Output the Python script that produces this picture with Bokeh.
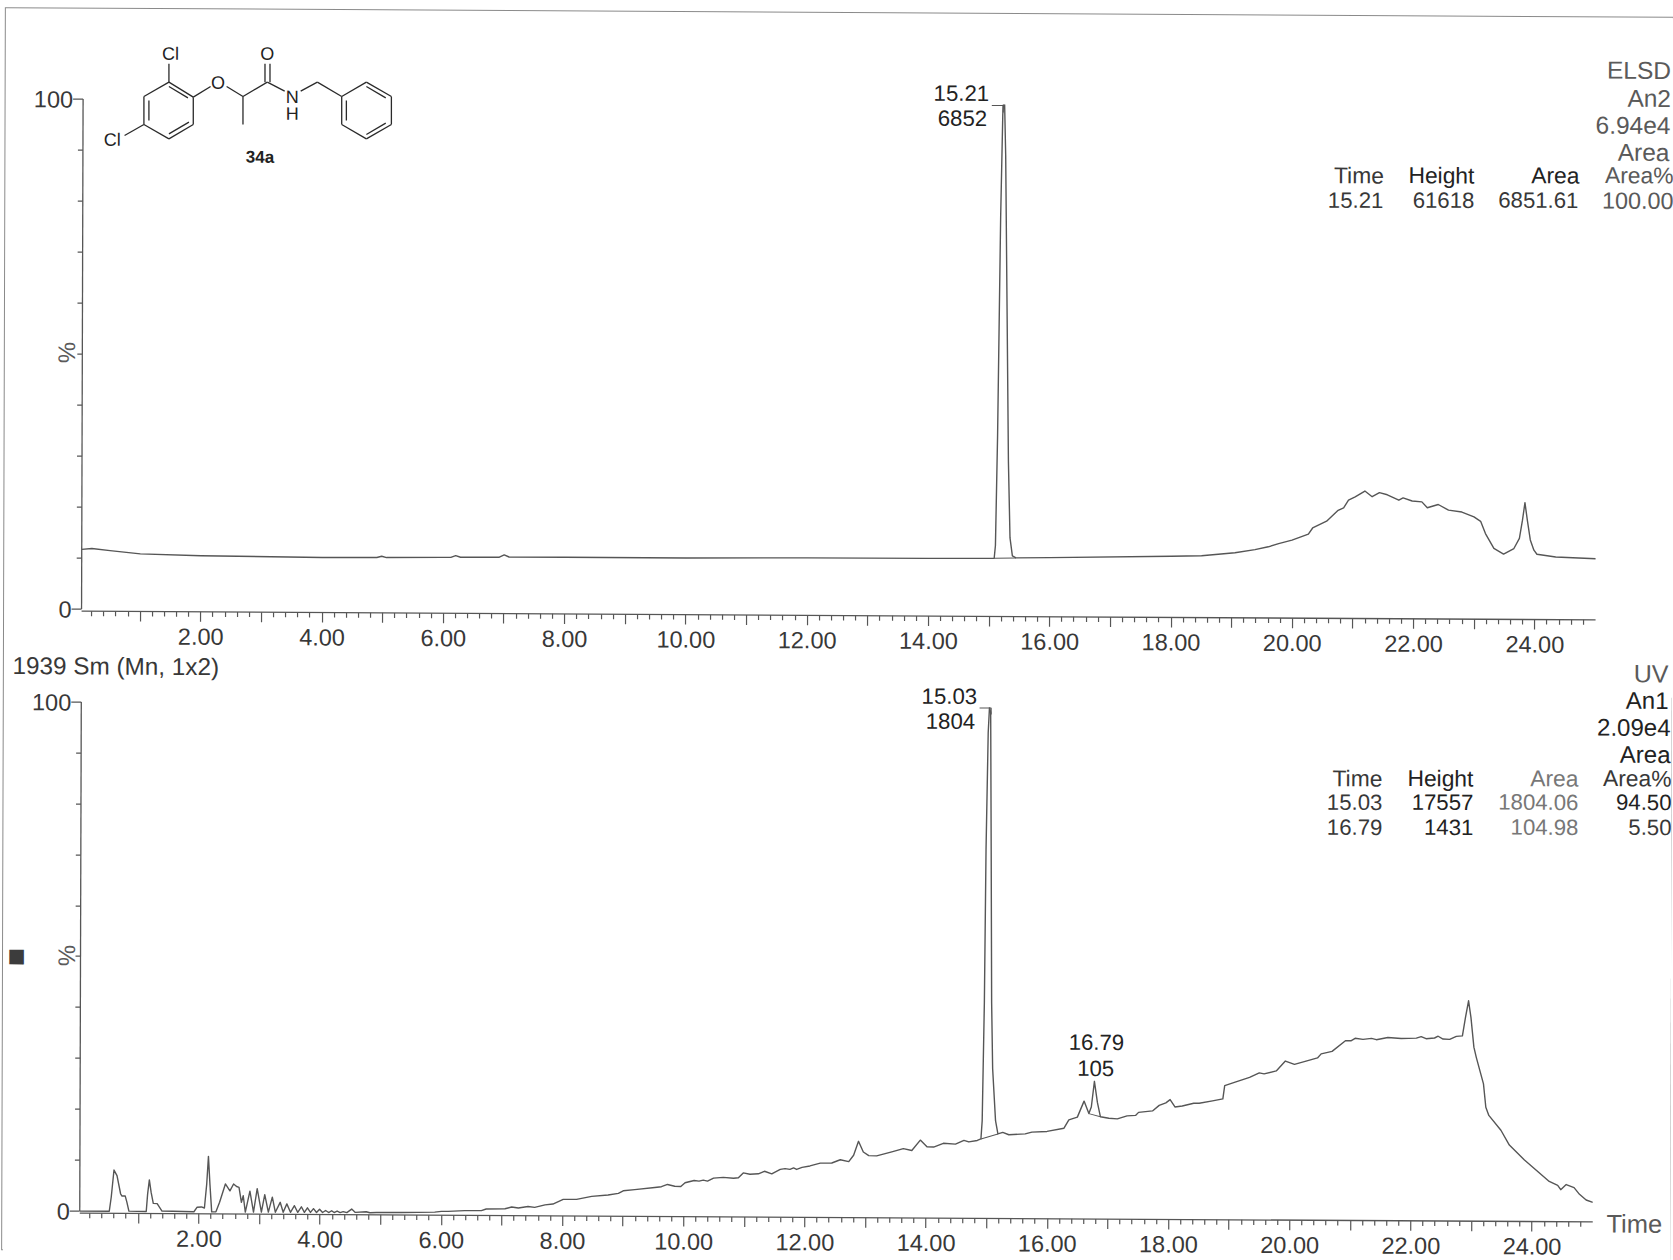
from math import pi
from bokeh.core.properties import value
from bokeh.embed import file_html
from bokeh.layouts import column
from bokeh.models import FixedTicker, Range1d
from bokeh.plotting import figure
from bokeh.resources import INLINE

# ---- ELSD trace (top panel): retention time (min), signal (%)
elsd_t = [0.033, 0.2, 0.5, 1.0, 2.0, 4.0, 4.9, 4.98, 5.06, 6.0, 6.12, 6.2, 6.28, 6.92, 7.0, 7.08, 8.0, 10.0, 12.0, 14.0, 15.0,
          15.08, 15.10, 15.13, 15.17, 15.20, 15.21, 15.23, 15.25, 15.28, 15.31, 15.34, 15.38, 15.44,
          16.0, 18.0, 18.5, 19.05, 19.38, 19.6, 19.77, 19.99, 20.26, 20.33, 20.56, 20.75, 20.84, 20.92,
          21.03, 21.19, 21.31, 21.43, 21.56, 21.75, 21.82, 21.97, 22.13, 22.22, 22.4, 22.57, 22.79, 22.99,
          23.1, 23.18, 23.32, 23.48, 23.65, 23.74, 23.79, 23.83, 23.87, 23.92, 23.98, 24.03, 24.34, 25.0]
elsd_v = [11.7, 11.9, 11.5, 10.9, 10.6, 10.4, 10.45, 10.7, 10.45, 10.55, 10.55, 10.9, 10.6, 10.65, 11.1, 10.7, 10.7, 10.7, 10.87, 10.9, 10.97,
          11.0, 13.5, 35.0, 78.0, 98.0, 100.0, 100.0, 90.0, 60.0, 30.0, 15.0, 11.5, 11.1,
          11.2, 11.6, 11.72, 12.35, 13.0, 13.56, 14.2, 14.9, 16.1, 17.3, 18.65, 20.8, 21.3, 22.8,
          23.45, 24.6, 23.5, 24.3, 23.9, 22.85, 23.3, 22.7, 22.55, 21.4, 22.05, 20.95, 20.6, 19.67,
          18.8, 16.4, 13.5, 12.4, 13.5, 15.5, 19.07, 22.5, 19.08, 15.2, 13.2, 12.4, 11.9, 11.6]

# ---- UV trace (bottom panel): retention time (min), signal (%)
uv_t = [0.033, 0.52, 0.552, 0.596, 0.646, 0.706, 0.73, 0.783, 0.81, 0.844, 1.13, 1.152, 1.18, 1.21, 1.246, 1.31, 1.39,
        1.917, 1.97, 2.04, 2.09, 2.127, 2.154, 2.18, 2.21, 2.28, 2.34, 2.435, 2.51, 2.57, 2.62, 2.66, 2.70, 2.73, 2.765,
        2.84, 2.90, 2.96, 3.03, 3.085, 3.145, 3.21, 3.26, 3.34, 3.39, 3.45, 3.51, 3.575, 3.63, 3.69, 3.74, 3.79, 3.84,
        3.89, 3.94, 3.99, 4.04, 4.09, 4.14, 4.19, 4.23, 4.28, 4.33, 4.38, 4.44, 4.52, 4.58, 4.76, 4.82, 4.93, 5.34, 5.89,
        6.0, 6.11, 6.385, 6.66, 6.74, 7.05, 7.16, 7.27, 7.43, 7.54, 7.71, 7.84, 8.01, 8.23, 8.48, 8.75, 8.92, 9.0, 9.19,
        9.52, 9.63, 9.73, 9.85, 9.95, 10.02, 10.17, 10.25, 10.32, 10.39, 10.49, 10.65, 10.82, 10.9, 10.98, 11.09, 11.23,
        11.33, 11.45, 11.59, 11.67, 11.75, 11.81, 11.86, 11.95, 12.08, 12.25, 12.44, 12.58, 12.72, 12.8, 12.88, 12.96,
        13.05, 13.18, 13.43, 13.62, 13.76, 13.9, 14.01, 14.12, 14.28, 14.48, 14.62, 14.7, 14.84, 14.90,
        14.92, 14.95, 14.97, 15.0, 15.02, 15.04, 15.055, 15.07, 15.09, 15.14, 15.18, 15.26, 15.36, 15.63, 15.74, 15.99,
        16.27, 16.35, 16.49, 16.6, 16.68, 16.72, 16.77, 16.82, 16.87, 17.01, 17.15, 17.31, 17.45, 17.5, 17.73, 17.84, 17.95,
        18.02, 18.1, 18.22, 18.41, 18.5, 18.72, 18.89, 18.92, 19.08, 19.33, 19.49, 19.57, 19.77, 19.92, 20.07, 20.29, 20.45,
        20.51, 20.69, 20.91, 21.0, 21.07, 21.2, 21.34, 21.42, 21.61, 21.83, 22.08, 22.16, 22.24, 22.38, 22.44, 22.52, 22.63,
        22.74, 22.84, 22.89, 22.94, 22.98, 23.03, 23.07, 23.19, 23.23, 23.28, 23.48, 23.62, 23.87, 24.28, 24.42, 24.47,
        24.56, 24.69, 24.78, 24.89, 25.0]
uv_v = [0.0, 0.0, 2.8, 8.1, 7.0, 3.45, 3.0, 3.0, 1.8, 0.05, 0.0, 3.4, 6.2, 3.75, 1.6, 1.55, 0.1,
        0.0, 0.9, 0.95, 0.75, 5.5, 10.9, 5.4, 0.0, 0.0, 1.9, 5.5, 4.15, 5.5, 5.0, 4.85, 1.9, 3.2, 0.0,
        4.1, 0.0, 4.6, 0.0, 3.45, 0.0, 2.95, 0.0, 1.95, 0.0, 1.65, 0.0, 1.3, 0.0, 1.1, 0.0, 0.9, 0.0,
        0.75, 0.0, 0.65, 0.0, 0.4, 0.0, 0.35, 0.0, 0.3, 0.0, 0.2, 0.0, 0.7, 0.05, 0.2, 0.0, 0.05, 0.1, 0.2,
        0.35, 0.37, 0.52, 0.55, 0.87, 0.95, 1.3, 1.1, 1.4, 1.25, 1.74, 1.92, 2.85, 2.87, 3.47, 3.75, 4.1, 4.6, 4.85,
        5.3, 5.45, 5.9, 5.55, 5.5, 6.25, 6.7, 6.6, 6.8, 6.6, 7.2, 7.35, 7.2, 7.3, 8.25, 8.0, 8.1,
        8.6, 8.1, 9.0, 9.15, 9.0, 9.3, 9.0, 9.4, 9.7, 10.27, 10.3, 10.95, 10.6, 11.85, 14.6, 12.5,
        11.8, 11.75, 12.55, 13.2, 12.85, 14.9, 13.6, 13.55, 14.3, 14.15, 14.9, 14.6, 14.9, 15.2,
        18.8, 42.0, 72.0, 95.0, 100.0, 99.0, 72.0, 42.0, 29.0, 18.8, 16.2, 16.5, 16.05, 16.25, 16.6, 16.75,
        17.4, 19.05, 19.6, 22.75, 20.3, 21.6, 26.65, 22.5, 19.7, 19.4, 19.3, 19.9, 20.0, 20.6, 20.9, 22.0, 22.5,
        23.15, 21.7, 21.9, 22.45, 22.45, 22.95, 23.35, 25.95, 26.6, 27.6, 28.5, 28.3, 28.9, 30.85, 30.2, 30.95, 31.5,
        32.3, 32.8, 34.9, 34.9, 35.4, 35.2, 35.4, 35.15, 35.6, 35.4, 35.5, 35.8, 35.4, 35.55, 35.9, 35.35, 35.3,
        35.9, 36.0, 39.65, 42.9, 39.65, 33.8, 31.8, 26.6, 22.0, 20.4, 17.5, 14.6, 11.7, 7.5, 6.75, 5.9,
        6.9, 6.3, 5.0, 3.9, 3.45]

# ---- integration baselines under the reported peaks
elsd_base_t = [15.08, 15.44]
elsd_base_v = [11.0, 11.1]
uv_base1_t = [14.90, 15.18]
uv_base1_v = [15.2, 16.2]
uv_base2_t = [16.68, 16.87]
uv_base2_v = [20.3, 19.7]

# ---- axis tick values
x_major = [float(i) for i in range(1, 25)]
x_minor = [i * 0.2 for i in range(1, 125) if i % 5 != 0]
x_labels = {v: (f"{v:.2f}" if int(v) % 2 == 0 else "") for v in x_major}
y_major = [0, 100]
y_minor = list(range(10, 100, 10))

# ---- peak labels and result tables (text, right edge px, y px in the page, colour, font px)
TXT = "#383838"
SOFT = "#5a5a5a"
PALE = "#777777"
DARK = "#222222"
page_texts = [
    ("ELSD", 1669.5, 70, SOFT, 24.5), ("An2", 1669.5, 98, SOFT, 24.5), ("6.94e4", 1669, 125, SOFT, 24.5), ("Area", 1668, 152, SOFT, 24.5),
    ("Time", 1382.5, 175, TXT, 22.8), ("Height", 1473, 175, DARK, 22.8), ("Area", 1578, 175, DARK, 22.8), ("Area%", 1672, 175, SOFT, 22.8),
    ("15.21", 1382, 200, TXT, 22.2), ("61618", 1473, 200, TXT, 22.2), ("6851.61", 1577, 200, TXT, 22.2), ("100.00", 1672, 200, SOFT, 23.4),
    ("15.21", 988, 93, DARK, 22.2), ("6852", 986, 118, DARK, 22.2),
    ("UV", 1667, 673, SOFT, 25), ("An1", 1667, 700, DARK, 24), ("2.09e4", 1669, 727, DARK, 24), ("Area", 1669, 754, DARK, 24),
    ("Time", 1381, 778, TXT, 22.8), ("Height", 1472, 778, DARK, 22.8), ("Area", 1577, 778, PALE, 22.8), ("Area%", 1670, 778, TXT, 22.8),
    ("15.03", 1381, 802, TXT, 22.2), ("17557", 1472, 802, DARK, 22.2), ("1804.06", 1577, 802, PALE, 22.2), ("94.50", 1670, 802, DARK, 22.2),
    ("16.79", 1381, 827, TXT, 22.2), ("1431", 1472, 827, DARK, 22.2), ("104.98", 1577, 827, PALE, 22.2), ("5.50", 1670, 827, TXT, 22.2),
    ("15.03", 976, 696, DARK, 22.2), ("1804", 974, 721, DARK, 22.2),
    ("16.79", 1123, 1042, DARK, 22.2), ("105", 1113, 1068, DARK, 22.2),
]
# ---- structure 34a, drawn in px*3 of the reference crop
bonds = [(505, 245, 578, 290), (578, 290, 578, 372), (578, 372, 505, 415), (505, 415, 430, 372), (430, 372, 430, 288),
         (430, 288, 505, 245), (505, 258, 562, 292), (445, 300, 445, 360), (505, 400, 565, 365), (505, 245, 505, 190),
         (430, 372, 372, 405), (578, 290, 630, 258), (678, 258, 727, 288), (727, 288, 727, 372), (727, 288, 800, 245),
         (793, 245, 793, 190), (808, 245, 808, 190), (800, 245, 852, 272), (900, 272, 950, 245), (950, 245, 1023, 288),
         (1023, 288, 1097, 245), (1097, 245, 1172, 288), (1172, 288, 1172, 372), (1172, 372, 1097, 415),
         (1097, 415, 1023, 372), (1023, 372, 1023, 288), (1037, 300, 1037, 360), (1097, 258, 1155, 292), (1097, 402, 1155, 368)]
atoms = [("Cl", 510, 160), ("Cl", 335, 418), ("O", 652, 247), ("O", 800, 160), ("N", 875, 290), ("H", 875, 340)]

FONT = "Liberation Sans"
LINE = "#565656"
LEFT, TOP, W, H1, H2 = 4, 13, 1667, 671, 570


def flat(px, py):
    """Undo the scan's tilt: reference page pixel -> pixel of the upright layout."""
    return px + 0.003 * (py - 630), py - 0.0058 * (px - 836)


def panel(height, border_top, frame_h):
    p = figure(frame_width=1512, frame_height=frame_h, output_backend="svg", toolbar_location=None,
               x_range=Range1d(0.033, 25), y_range=Range1d(-0.4, 100),
               min_border_left=77, min_border_right=78, min_border_top=border_top,
               min_border_bottom=height - border_top - frame_h,
               background_fill_color="white", border_fill_color="white", outline_line_color=None)
    p.grid.visible = False
    ax = p.xaxis[0]
    ax.bounds = (0.033, 25)
    ax.ticker = FixedTicker(ticks=x_major, minor_ticks=x_minor)
    ax.major_label_overrides = x_labels
    ay = p.yaxis[0]
    ay.bounds = (0, 100)
    ay.ticker = FixedTicker(ticks=y_major, minor_ticks=y_minor)
    for a in (ax, ay):
        a.axis_line_color = LINE
        a.axis_line_width = 1.3
        a.major_tick_line_color = LINE
        a.minor_tick_line_color = LINE
        a.major_tick_line_width = 1.2
        a.minor_tick_line_width = 1.2
        a.major_tick_in = 0
        a.minor_tick_in = 0
        a.major_tick_out = 10
        a.minor_tick_out = 5
        a.major_label_text_font = FONT
        a.major_label_text_font_size = "23.5px"
        a.major_label_text_color = TXT
    ax.major_label_standoff = 6
    ay.major_label_standoff = 0
    return p


p1 = panel(H1, 90, 503)
p1.line(elsd_t, elsd_v, line_color=LINE, line_width=1.4, line_join="round")
p1.line(elsd_base_t, elsd_base_v, line_color=LINE, line_width=1)

p2 = panel(H2, 22, 502)
p2.line(uv_t, uv_v, line_color=LINE, line_width=1.4, line_join="round")
p2.line(uv_base1_t, uv_base1_v, line_color=LINE, line_width=1)
p2.line(uv_base2_t, uv_base2_v, line_color=LINE, line_width=1)

# transparent sheet over both panels: everything that may lie outside a panel's frame
sheet = figure(frame_width=W - 2, frame_height=H1 + H2 - 9, output_backend="svg", toolbar_location=None,
               x_range=Range1d(LEFT, LEFT + W), y_range=Range1d(TOP + H1 + H2, TOP),
               x_axis_location=None, y_axis_location=None,
               min_border=0, background_fill_color=None, border_fill_color=None, outline_line_color=None,
               styles={"position": "absolute", "left": "0px", "top": "0px", "pointer-events": "none"})
sheet.grid.visible = False


def text(s, px, py, color=TXT, align="right", size=21.0, style="normal", angle=0.0):
    x, y = flat(px, py)
    sheet.text([x], [y], text=[s], text_align=align, text_baseline="middle", text_font=value(FONT),
               text_font_size=f"{size}px", text_font_style=style, text_color=color, angle=angle)


def bracket(x0, x1, y, y1):
    a, b, c = flat(x0, y), flat(x1, y), flat(x1, y1)
    sheet.line([a[0], b[0], c[0]], [a[1], b[1], c[1]], line_color=LINE, line_width=1.2)


for s, x, y, c, fs in page_texts:
    text(s, x, y, c, size=fs)
bracket(990.7, 1002, 105, 112)
bracket(978.5, 990, 707.5, 714)
text("%", 66, 352, SOFT, align="center", size=24, angle=pi / 2)
text("%", 66, 955, SOFT, align="center", size=24, angle=pi / 2)
text("1939 Sm (Mn, 1x2)", 12, 665, TXT, align="left", size=24.3)
text("Time", 1605, 1223, SOFT, align="left", size=25.5)
text("■", 16, 955, "#3c3c3c", align="center", size=30)

mol = [(flat(a / 3, b / 3), flat(c / 3, d / 3)) for a, b, c, d in bonds]
sheet.segment([m[0][0] for m in mol], [m[0][1] for m in mol], [m[1][0] for m in mol], [m[1][1] for m in mol],
              line_color="#2a2a2a", line_width=1.3)
for s, zx, zy in atoms:
    text(s, zx / 3, zy / 3, DARK, align="center", size=18)
text("34a", 778 / 3, 470 / 3, DARK, align="center", size=17, style="bold")

plots = column(p1, p2, spacing=0)
page = column(plots, sheet, spacing=0, styles={
    "margin-left": f"{LEFT}px", "margin-top": f"{TOP}px",
    "outline": "1px solid #8a8a8a",
    "transform": "matrix(1, 0.0058, -0.003, 1, 0, 0)",
})
open("out.html", "w").write(file_html(page, INLINE))
